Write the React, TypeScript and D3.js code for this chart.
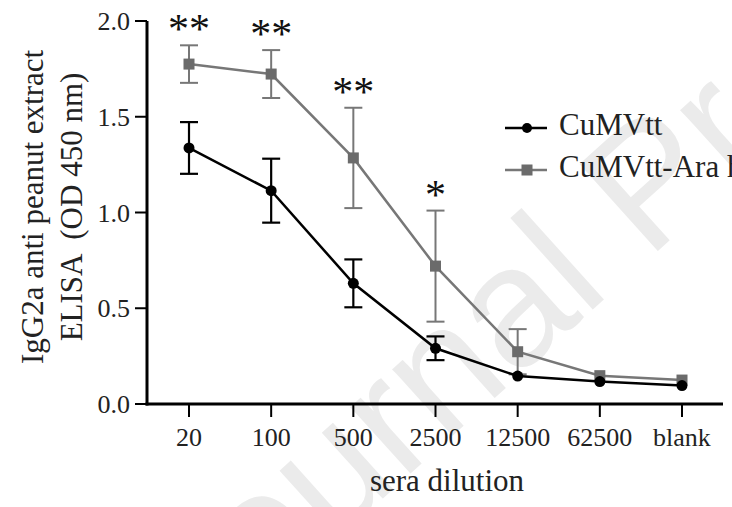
import React from "react";
import * as d3 from "d3";

const categories = ["20", "100", "500", "2500", "12500", "62500", "blank"];
const cumvttMean = [1.337, 1.114, 0.63, 0.291, 0.146, 0.117, 0.096];
const cumvttErr = [0.135, 0.167, 0.125, 0.062, 0, 0, 0];
const araMean = [1.775, 1.723, 1.285, 0.72, 0.273, 0.148, 0.125];
const araErr = [0.098, 0.125, 0.262, 0.29, 0.118, 0, 0];
const sigLabels = ["**", "**", "**", "*", "", "", ""];
const yTicks = [0, 0.5, 1.0, 1.5, 2.0];

const W = 732, H = 507;
const x0 = 147, x1 = 723, yTop = 21, yBot = 404;

export default function App() {
  const x = d3.scalePoint<string>().domain(categories).range([189, 682]);
  const y = d3.scaleLinear().domain([0, 2]).range([yBot, yTop]);
  const line = d3.line<number>().x((_, i) => x(categories[i])!).y((v) => y(v));
  const serif = "'Liberation Serif', 'Times New Roman', serif";
  const gray = "#6b6b6b";
  const grayLine = "#777777";

  const errBars = (means: number[], errs: number[], color: string, w: number) =>
    means.map((m, i) =>
      errs[i] > 0 ? (
        <g key={i} stroke={color} strokeWidth={w}>
          <line x1={x(categories[i])} x2={x(categories[i])} y1={y(m - errs[i])} y2={y(m + errs[i])} />
          <line x1={x(categories[i])! - 9} x2={x(categories[i])! + 9} y1={y(m + errs[i])} y2={y(m + errs[i])} />
          <line x1={x(categories[i])! - 9} x2={x(categories[i])! + 9} y1={y(m - errs[i])} y2={y(m - errs[i])} />
        </g>
      ) : null
    );

  return (
    <svg width={W} height={H} style={{ position: "absolute", left: 0, top: 0, background: "#fff" }}>
      <rect width={W} height={H} fill="#fff" />
      <text
        transform="translate(198,665) rotate(-42)"
        fontFamily="'Liberation Sans', Arial, sans-serif"
        fontSize={170}
        fill="#ebebeb"
      >
        Journal Pre-proof
      </text>
      {/* axes */}
      <line x1={x0} x2={x0} y1={yTop} y2={yBot + 1.5} stroke="#000" strokeWidth={3} />
      <line x1={x0 - 1.5} x2={x1} y1={yBot} y2={yBot} stroke="#000" strokeWidth={3} />
      {yTicks.map((t) => (
        <g key={t}>
          <line x1={x0 - 12} x2={x0} y1={y(t)} y2={y(t)} stroke="#000" strokeWidth={2} />
          <text x={x0 - 17} y={y(t)} dy="0.35em" textAnchor="end" fontFamily={serif} fontSize={26} fill="#222">
            {t.toFixed(1)}
          </text>
        </g>
      ))}
      {categories.map((c) => (
        <g key={c}>
          <line x1={x(c)} x2={x(c)} y1={yBot} y2={yBot + 13} stroke="#000" strokeWidth={2} />
          <text x={x(c)} y={yBot + 42} textAnchor="middle" fontFamily={serif} fontSize={26} fill="#222">
            {c}
          </text>
        </g>
      ))}
      <text x={447} y={491} textAnchor="middle" fontFamily={serif} fontSize={31} fill="#222">
        sera dilution
      </text>
      <text transform="translate(43,207) rotate(-90)" textAnchor="middle" fontFamily={serif} fontSize={31} fill="#222">
        IgG2a anti peanut extract
      </text>
      <text transform="translate(82,207) rotate(-90)" textAnchor="middle" fontFamily={serif} fontSize={31} fill="#222" xmlSpace="preserve">
        ELISA  (OD 450 nm)
      </text>

      {/* gray series */}
      {errBars(araMean, araErr, grayLine, 2)}
      <path d={line(araMean)!} fill="none" stroke={grayLine} strokeWidth={2.5} />
      {araMean.map((m, i) => (
        <rect key={i} x={x(categories[i])! - 5.5} y={y(m) - 5.5} width={11} height={11} fill={gray} />
      ))}
      {/* black series */}
      {errBars(cumvttMean, cumvttErr, "#000", 2.2)}
      <path d={line(cumvttMean)!} fill="none" stroke="#000" strokeWidth={2.5} />
      {cumvttMean.map((m, i) => (
        <circle key={i} cx={x(categories[i])} cy={y(m)} r={5.5} fill="#000" />
      ))}

      {/* significance */}
      {sigLabels.map((s, i) =>
        s ? (
          <text key={i} x={x(categories[i])} y={y(araMean[i] + araErr[i]) - 2} textAnchor="middle" fontFamily={serif} fontSize={42} fill="#111">
            {s}
          </text>
        ) : null
      )}

      {/* legend */}
      <line x1={505} x2={547} y1={128} y2={128} stroke="#000" strokeWidth={2.5} />
      <circle cx={527} cy={128} r={5} fill="#000" />
      <text x={559} y={135} fontFamily={serif} fontSize={31} fill="#222">CuMVtt</text>
      <line x1={505} x2={547} y1={170} y2={170} stroke={grayLine} strokeWidth={2.5} />
      <rect x={521.5} y={164.5} width={11} height={11} fill={gray} />
      <text x={559} y={177} fontFamily={serif} fontSize={31} fill="#222">CuMVtt-Ara h 2</text>
    </svg>
  );
}
